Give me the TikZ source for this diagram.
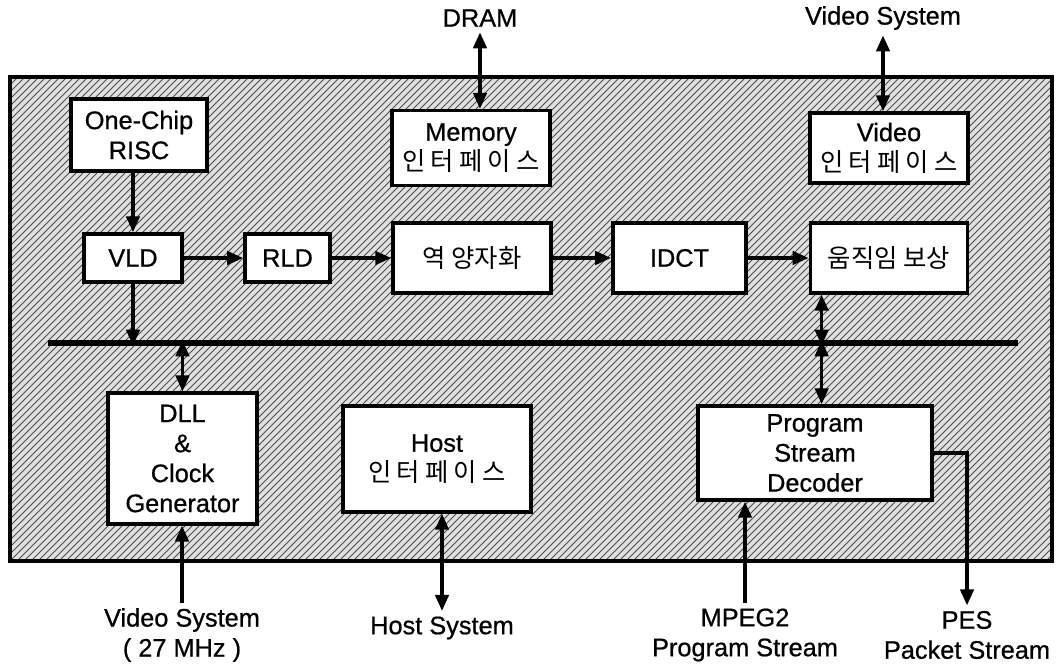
\documentclass[tikz,border=0pt]{standalone}
\usepackage{fontspec}
\setmainfont[FakeBold=0.7]{Liberation Sans}
\newfontfamily\kr{Noto Sans CJK KR}
\newfontfamily\krsp[LetterSpace=20]{Noto Sans CJK KR}
\usetikzlibrary{positioning,arrows.meta}

\begin{document}
\begin{tikzpicture}[
  x=0.75pt, y=-0.75pt,
  every node/.style={font=\fontsize{19}{22.5}\selectfont},
  blk/.style={draw,line width=2.6pt,fill=white,inner sep=0pt,align=center},
  lbl/.style={align=center,inner sep=4pt},
  hatch/.style={line width=0.7pt,black!70},
  arr/.style={line width=2.6pt,-{Triangle[length=12pt,width=10pt]}},
  darr/.style={line width=2.6pt,{Triangle[length=12pt,width=10pt]}-{Triangle[length=12pt,width=10pt]}}
]
\useasboundingbox (0,0) rectangle (1063,664);

% chip area
\fill[black!12] (10,77) rectangle (1052,561);
\begin{scope}
  \clip (10,77) rectangle (1052,561);
  \foreach \i in {-490,-483,...,1050}
    \draw[hatch] (10+\i,561) -- (494+\i,77);
\end{scope}
\draw[line width=2.6pt] (10,77) rectangle (1052,561);

% bus
\coordinate (busL) at (48,343);
\coordinate (busR) at (1018,343);
\draw[line width=4.8pt] (busL) -- (busR);

% blocks
\node[blk,minimum width=102pt,minimum height=54pt] (risc) at (139,135) {One-Chip\\RISC};
\node[blk,minimum width=118.5pt,minimum height=56pt] (mem) at (471,148) {Memory\\{\krsp 인터페이스}};
\node[blk,minimum width=118.5pt,minimum height=52.5pt] (vif) at (889,148) {Video\\{\krsp 인터페이스}};

\node[blk,minimum width=73.5pt,minimum height=36pt] (vld) at (133,258) {VLD};
\node[blk,minimum width=64pt,minimum height=36pt] (rld) at (287.5,258) {RLD};
\node[blk,minimum width=118.5pt,minimum height=52.5pt] (iq) at (472,258) {\kr 역 양자화};
\node[blk,minimum width=100pt,minimum height=52.5pt] (idct) at (679.5,258) {IDCT};
\node[blk,minimum width=118pt,minimum height=52.5pt] (mc) at (889,258) {\kr 움직임 보상};

\node[blk,minimum width=112pt,minimum height=98pt] (dll) at (182.5,458.5) {DLL\\\&\\Clock\\Generator};
\node[blk,minimum width=141pt,minimum height=79.5pt] (host) at (437,459) {Host\\{\krsp 인터페이스}};
\node[blk,minimum width=175.5pt,minimum height=70.5pt] (psd) at (815,453) {Program\\Stream\\Decoder};

% outside labels
\node[lbl] (dram) at (480,18) {DRAM};
\node[lbl] (vsys) at (883,18) {Video System};
\node[lbl] (clk) at (182,635) {Video System\\( 27 MHz )};
\node[lbl] (hsys) at (442,628) {Host System};
\node[lbl] (mpeg) at (745,635) {MPEG2\\Program Stream};
\node[lbl] (pes) at (967,635) {PES\\Packet Stream};

% connectors
\draw[darr] (dram.south) -- (dram.south |- mem.north);
\draw[darr] (vsys.south) -- (vsys.south |- vif.north);
\draw[arr] (risc.south -| vld.north) -- (vld.north);
\draw[arr] (vld) -- (rld);
\draw[arr] (rld) -- (iq);
\draw[arr] (iq) -- (idct);
\draw[arr] (idct) -- (mc);
\draw[arr] (vld.south) -- ([yshift=-2pt]vld.south |- busL);
\draw[darr] ([xshift=5pt]mc.south -| psd.north) -- ([xshift=5pt,yshift=-2pt]psd.north |- busL);
\draw[darr] ([yshift=2pt]dll.north |- busL) -- (dll.north);
\draw[darr] ([xshift=5pt,yshift=2pt]psd.north |- busL) -- ([xshift=5pt]psd.north);
\draw[arr] (clk.north) -- (clk.north |- dll.south);
\draw[darr] (hsys.north) -- (hsys.north |- host.south);
\draw[arr] (mpeg.north) -- (mpeg.north |- psd.south);
\draw[arr] (psd.east) -| (pes.north);
\end{tikzpicture}
\end{document}
